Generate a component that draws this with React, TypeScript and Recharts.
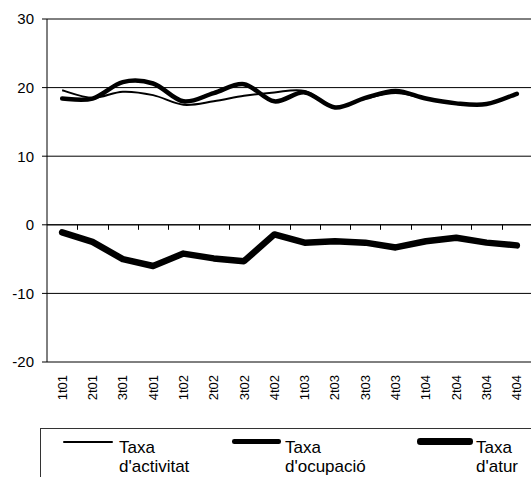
import React from 'react';
import { ComposedChart, Line, XAxis, YAxis, CartesianGrid, ReferenceLine } from 'recharts';

const categories = ['1t01', '2t01', '3t01', '4t01', '1t02', '2t02', '3t02', '4t02', '1t03', '2t03', '3t03', '4t03', '1t04', '2t04', '3t04', '4t04'];
const activitat = [19.6, 18.5, 19.4, 18.9, 17.5, 18.0, 18.8, 19.3, 19.5, 17.2, 18.4, 19.2, 18.4, 17.7, 17.6, 19.1];
const ocupacio = [18.4, 18.4, 20.8, 20.6, 18.0, 19.2, 20.5, 18.0, 19.3, 17.1, 18.5, 19.5, 18.4, 17.7, 17.6, 19.1];
const atur = [-1.1, -2.5, -5.0, -6.0, -4.2, -4.9, -5.3, -1.4, -2.6, -2.4, -2.6, -3.3, -2.4, -1.9, -2.6, -3.0];
const yTicks = [-20, -10, 0, 10, 20, 30];
const yDomain = [-20, 30];
const seriesNames = ["Taxa d'activitat", "Taxa d'ocupació", "Taxa d'atur"];

const FONT = '"Liberation Sans", Arial, sans-serif';

const CHART_W = 540;
const CHART_H = 477;
const MARGIN = { top: 19, right: 8, left: 0, bottom: 65 };
const Y_AXIS_W = 47;
const X_AXIS_H = 50;
const X_TICK_SIZE = 6;
const X_TICK_MARGIN = 7;
const PLOT_W = CHART_W - MARGIN.left - MARGIN.right - Y_AXIS_W;
const PLOT_H = CHART_H - MARGIN.top - MARGIN.bottom - X_AXIS_H;

const data = categories.map((c, i) => ({
  idx: i,
  cat: c,
  activitat: activitat[i],
  ocupacio: ocupacio[i],
  atur: atur[i],
}));

const excelSmooth = (context: any) => {
  let pts: number[][] = [];
  return {
    areaStart() {},
    areaEnd() {},
    lineStart() {
      pts = [];
    },
    point(x: number, y: number) {
      pts.push([+x, +y]);
    },
    lineEnd() {
      const n = pts.length;
      if (!n) return;
      context.moveTo(pts[0][0], pts[0][1]);
      for (let i = 0; i < n - 1; i++) {
        const p0 = pts[Math.max(i - 1, 0)];
        const p1 = pts[i];
        const p2 = pts[i + 1];
        const p3 = pts[Math.min(i + 2, n - 1)];
        context.bezierCurveTo(
          p1[0] + (p2[0] - p0[0]) / 6,
          p1[1] + (p2[1] - p0[1]) / 6,
          p2[0] - (p3[0] - p1[0]) / 6,
          p2[1] - (p3[1] - p1[1]) / 6,
          p2[0],
          p2[1]
        );
      }
    },
  };
};

// Category label plus the boundary tick mark that hangs below the zero line
const XTick = (props: any) => {
  const { x, y, payload, index } = props;
  const n = categories.length;
  const step = PLOT_W / n;
  const plotBottom = y - X_TICK_SIZE - X_TICK_MARGIN;
  const zeroY = plotBottom - PLOT_H * ((0 - yDomain[0]) / (yDomain[1] - yDomain[0]));
  const markX = Math.round(x + step / 2) + 0.5;
  const hasMark = index < n - 1;
  return (
    <g>
      {hasMark && (
        <line x1={markX} x2={markX} y1={zeroY} y2={zeroY + 5} stroke="#000" strokeWidth={1} />
      )}
      <text
        x={x}
        y={y}
        transform={`rotate(-90 ${x} ${y})`}
        textAnchor="end"
        dominantBaseline="central"
        fontSize={13}
        fontFamily={FONT}
        fill="#000"
      >
        {categories[payload.value]}
      </text>
    </g>
  );
};

const legendItems = [
  { name: seriesNames[0], width: 2, lineX: 22, lineW: 50, textX: 78 },
  { name: seriesNames[1], width: 4.5, lineX: 191, lineW: 49, textX: 244 },
  { name: seriesNames[2], width: 6.5, lineX: 376, lineW: 56, textX: 435 },
];

export default function App() {
  return (
    <div
      style={{
        position: 'absolute',
        left: 0,
        top: 0,
        width: 531,
        height: 477,
        overflow: 'hidden',
        background: '#fff',
        fontFamily: FONT,
      }}
    >
      <ComposedChart width={CHART_W} height={CHART_H} data={data} margin={MARGIN}>
        <CartesianGrid vertical={false} stroke="#000" strokeWidth={1} />
        <XAxis
          dataKey="idx"
          type="number"
          domain={[-0.5, categories.length - 0.5]}
          ticks={categories.map((_, i) => i)}
          interval={0}
          axisLine={false}
          tickLine={false}
          tickSize={X_TICK_SIZE}
          tickMargin={X_TICK_MARGIN}
          height={X_AXIS_H}
          tick={<XTick />}
        />
        <YAxis
          domain={yDomain}
          ticks={yTicks}
          interval={0}
          width={Y_AXIS_W}
          axisLine={{ stroke: '#000' }}
          tickLine={{ stroke: '#000' }}
          tickSize={5}
          tickMargin={8}
          tick={{ fill: '#000', fontSize: 15, fontFamily: FONT }}
        />
        <ReferenceLine y={0} stroke="#000" strokeWidth={1} />
        <Line
          dataKey="activitat"
          type={excelSmooth as any}
          stroke="#000"
          strokeWidth={2}
          dot={false}
          activeDot={false}
          isAnimationActive={false}
        />
        <Line
          dataKey="ocupacio"
          type={excelSmooth as any}
          stroke="#000"
          strokeWidth={4.5}
          strokeLinecap="round"
          dot={false}
          activeDot={false}
          isAnimationActive={false}
        />
        <Line
          dataKey="atur"
          type="linear"
          stroke="#000"
          strokeWidth={6.5}
          strokeLinecap="round"
          strokeLinejoin="round"
          dot={false}
          activeDot={false}
          isAnimationActive={false}
        />
      </ComposedChart>
      <div
        style={{
          position: 'absolute',
          left: 40,
          top: 428,
          width: 600,
          height: 100,
          border: '1px solid #333',
          boxSizing: 'border-box',
        }}
      >
        {legendItems.map((it) => {
          const parts = it.name.split(' ');
          return (
            <React.Fragment key={it.name}>
              <div
                style={{
                  position: 'absolute',
                  left: it.lineX,
                  top: 12.7 - it.width / 2,
                  width: it.lineW,
                  height: it.width,
                  background: '#000',
                  borderRadius: it.width / 2,
                }}
              />
              <div
                style={{
                  position: 'absolute',
                  left: it.textX,
                  top: 8.6,
                  fontSize: 17,
                  lineHeight: '19px',
                  color: '#000',
                  whiteSpace: 'nowrap',
                }}
              >
                <div>{parts[0]}</div>
                <div>{parts.slice(1).join(' ')}</div>
              </div>
            </React.Fragment>
          );
        })}
      </div>
    </div>
  );
}
